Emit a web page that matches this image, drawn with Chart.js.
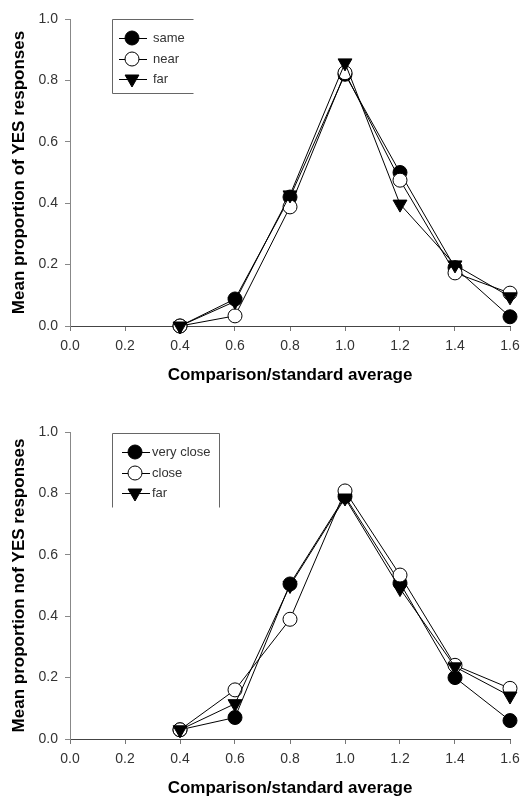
<!DOCTYPE html>
<html lang="en">
<head>
<meta charset="UTF-8">
<title>Mean proportion of YES responses</title>
<script src="https://cdn.jsdelivr.net/npm/chart.js"></script>
<style>
    html, body { margin: 0; padding: 0; background: #fff; }
    .painel { position: absolute; left: 0; width: 521px; height: 384px; }
    #painel1 { top: 0; }
    #painel2 { top: 413px; }
</style>
</head>
<body>
    <div class="painel" id="painel1"><canvas id="grafico1"></canvas></div>
    <div class="painel" id="painel2"><canvas id="grafico2"></canvas></div>

<script>
    // comparison/standard ratios
    var razoes = [0.4, 0.6, 0.8, 1.0, 1.2, 1.4, 1.6];
    var ticksEixo = [0.0, 0.2, 0.4, 0.6, 0.8, 1.0, 1.2, 1.4, 1.6];

    // top panel
    var nomesTopo = ["same", "near", "far"];
    var same = [0.00, 0.088, 0.42, 0.82, 0.50, 0.19, 0.03];
    var near = [0.00, 0.033, 0.388, 0.825, 0.475, 0.173, 0.107];
    var farTopo = [0.00, 0.08, 0.427, 0.857, 0.397, 0.199, 0.095];

    // bottom panel
    var nomesBaixo = ["very close", "close", "far"];
    var veryClose = [0.03, 0.07, 0.505, 0.79, 0.508, 0.20, 0.06];
    var close = [0.03, 0.16, 0.39, 0.808, 0.534, 0.24, 0.165];
    var farBaixo = [0.03, 0.115, 0.50, 0.785, 0.49, 0.235, 0.14];

    var fonte = "'Liberation Sans', Arial, sans-serif";

    function pontos(valores) {
        return razoes.map(function (r, i) { return { x: r, y: valores[i] }; });
    }

    // marker styles: filled circle, open circle, filled triangle (pointing down)
    var estilos = [
        { pointStyle: "circle", pointRadius: 7, pointBackgroundColor: "#000", pointRotation: 0, order: 3 },
        { pointStyle: "circle", pointRadius: 7, pointBackgroundColor: "#fff", pointRotation: 0, order: 2 },
        { pointStyle: "triangle", pointRadius: 8, pointBackgroundColor: "#000", pointRotation: 180, order: 1 }
    ];

    function montarDatasets(nomes, series) {
        return series.map(function (s, i) {
            var e = estilos[i];
            return {
                label: nomes[i],
                data: pontos(s),
                borderColor: "#000",
                borderWidth: 1,
                pointStyle: e.pointStyle,
                pointRadius: e.pointRadius,
                pointHoverRadius: e.pointRadius,
                pointBackgroundColor: e.pointBackgroundColor,
                pointBorderColor: "#000",
                pointBorderWidth: 1,
                pointRotation: e.pointRotation,
                order: e.order,
                tension: 0,
                fill: false,
                clip: false
            };
        });
    }

    function marcador(ctx, estilo, x, y) {
        ctx.save();
        ctx.fillStyle = estilo.pointBackgroundColor;
        ctx.strokeStyle = "#000";
        ctx.lineWidth = 1;
        ctx.beginPath();
        if (estilo.pointStyle == "circle") {
            ctx.arc(x, y, estilo.pointRadius, 0, Math.PI * 2);
        } else {
            var r = estilo.pointRadius;
            var rad = estilo.pointRotation * Math.PI / 180;
            for (var k = 0; k < 3; k++) {
                var px = x + Math.sin(rad) * r;
                var py = y - Math.cos(rad) * r;
                if (k == 0) ctx.moveTo(px, py); else ctx.lineTo(px, py);
                rad += Math.PI * 2 / 3;
            }
            ctx.closePath();
        }
        ctx.fill();
        ctx.stroke();
        ctx.restore();
    }

    // legend box drawn inside the plot area
    var legendaCaixa = {
        id: "legendaCaixa",
        afterDatasetsDraw: function (chart, args, opts) {
            var ctx = chart.ctx;
            var a = chart.chartArea;
            var x0 = a.left + opts.dx;
            var y0 = a.top + opts.dy;
            var x1 = x0 + opts.largura;
            var y1 = y0 + opts.altura;

            ctx.save();
            ctx.strokeStyle = "#666";
            ctx.lineWidth = 1;
            ctx.beginPath();
            ctx.moveTo(x0 + 0.5, y0 + 0.5); ctx.lineTo(x1 + 0.5, y0 + 0.5);
            ctx.moveTo(x0 + 0.5, y0 + 0.5); ctx.lineTo(x0 + 0.5, y1 + 0.5);
            if (opts.lados.indexOf("r") >= 0) { ctx.moveTo(x1 + 0.5, y0 + 0.5); ctx.lineTo(x1 + 0.5, y1 + 0.5); }
            if (opts.lados.indexOf("b") >= 0) { ctx.moveTo(x0 + 0.5, y1 + 0.5); ctx.lineTo(x1 + 0.5, y1 + 0.5); }
            ctx.stroke();

            chart.data.datasets.forEach(function (ds, i) {
                var yl = y0 + opts.linhas[i];
                var xs = x0 + opts.simbolo;
                ctx.strokeStyle = "#000";
                ctx.beginPath();
                ctx.moveTo(xs - 13, yl + 0.5);
                ctx.lineTo(xs + 15, yl + 0.5);
                ctx.stroke();
                marcador(ctx, estilos[i], xs, yl);
                ctx.fillStyle = "#333";
                ctx.font = "13px " + fonte;
                ctx.textAlign = "left";
                ctx.textBaseline = "middle";
                ctx.fillText(ds.label, x0 + opts.texto, yl);
            });
            ctx.restore();
        }
    };

    function criarGrafico(id, nomes, series, tituloY, legenda) {
        return new Chart(document.getElementById(id), {
            type: "line",
            data: { datasets: montarDatasets(nomes, series) },
            plugins: [legendaCaixa],
            options: {
                responsive: true,
                maintainAspectRatio: false,
                animation: false,
                layout: { autoPadding: false, padding: { top: 19, right: 11, left: 0, bottom: 0 } },
                plugins: {
                    legend: { display: false },
                    tooltip: { enabled: false },
                    legendaCaixa: legenda
                },
                scales: {
                    x: {
                        type: "linear",
                        min: 0,
                        max: 1.6,
                        afterBuildTicks: function (scale) {
                            scale.ticks = ticksEixo.map(function (v) { return { value: v }; });
                        },
                        afterFit: function (scale) {
                            scale.height = 58;
                            scale.paddingLeft = 0;
                            scale.paddingRight = 0;
                        },
                        ticks: {
                            padding: 7,
                            color: "#333",
                            font: { family: fonte, size: 14 },
                            callback: function (v) { return Number(v).toFixed(1); }
                        },
                        grid: { drawOnChartArea: false, drawTicks: true, tickLength: 5, color: "#777" },
                        border: { display: true, color: "#444", width: 1 },
                        title: {
                            display: true,
                            text: "Comparison/standard average",
                            color: "#000",
                            font: { family: fonte, size: 17, weight: "bold", lineHeight: 1.0 },
                            padding: { top: 0, bottom: 0 }
                        }
                    },
                    y: {
                        min: 0,
                        max: 1,
                        ticks: {
                            stepSize: 0.2,
                            padding: 7,
                            color: "#333",
                            font: { family: fonte, size: 14 },
                            callback: function (v) { return Number(v).toFixed(1); }
                        },
                        afterFit: function (scale) {
                            scale.width = 70;
                            scale.paddingTop = 0;
                            scale.paddingBottom = 0;
                        },
                        grid: { drawOnChartArea: false, drawTicks: true, tickLength: 5, color: "#888" },
                        border: { display: true, color: "#888", width: 1 },
                        title: {
                            display: true,
                            text: tituloY,
                            color: "#000",
                            font: { family: fonte, size: 17, weight: "bold", lineHeight: 1.2 },
                            padding: { top: 9, bottom: 0 }
                        }
                    }
                }
            }
        });
    }

    criarGrafico("grafico1", nomesTopo, [same, near, farTopo], "Mean proportion of YES responses",
        { dx: 42, dy: 0, largura: 81, altura: 74, lados: "b", simbolo: 20, texto: 41, linhas: [19, 40, 60] });

    criarGrafico("grafico2", nomesBaixo, [veryClose, close, farBaixo], "Mean proportion nof YES responses",
        { dx: 42, dy: 1, largura: 107, altura: 74, lados: "r", simbolo: 23, texto: 40, linhas: [19, 40, 60] });
</script>
</body>
</html>
